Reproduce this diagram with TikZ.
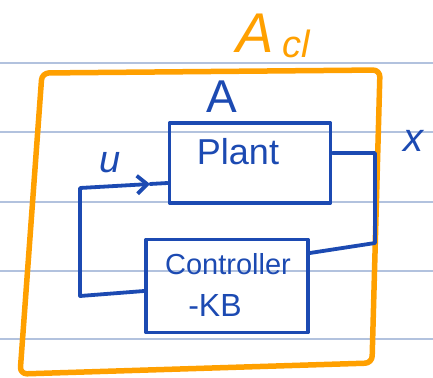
\documentclass[tikz,border=0pt]{standalone}
\usepackage{fontspec}
\setmainfont{Liberation Sans}
\usetikzlibrary{arrows.meta,calc}
\definecolor{penblue}{RGB}{28,74,178}
\definecolor{penorange}{RGB}{255,160,0}
\definecolor{ruleline}{RGB}{178,194,222}
\tikzset{
  blueline/.style={draw=penblue,line width=3.8pt,line cap=round,line join=round},
  orangeline/.style={draw=penorange,line width=5.5pt,line cap=round,line join=round,rounded corners=7pt},
  bluebox/.style={blueline,rectangle,inner sep=0pt},
  bluetext/.style={text=penblue,inner sep=0pt},
  orangetext/.style={text=penorange,inner sep=0pt},
}
\begin{document}
\begin{tikzpicture}[x=1pt,y=-1pt]
\useasboundingbox (0,0) rectangle (433,377);
\fill[white] (0,0) rectangle (433,377);
\foreach \yy in {63,132,202,271,339}
  \draw[ruleline,line width=1.2pt] (0,\yy) -- (433,\yy);

% closed-loop frame
\draw[orangeline] (42,73) -- (380,70) -- (372,363) -- (20,374) -- cycle;
\node[orangetext,font=\fontsize{56}{56}\selectfont\itshape] (aclA) at (255,33) {A};
\node[orangetext,font=\fontsize{38}{38}\selectfont\itshape,anchor=base west] (aclsub) at (282,58) {cl};

\node[bluetext,font=\fontsize{46}{46}\selectfont] (labA) at (222,97) {A};

% blocks
\node[bluebox,minimum width=161pt,minimum height=80pt] (plant) at (250,163) {};
\node[bluetext,font=\fontsize{36}{36}\selectfont] (plantlab) at (238,152) {Plant};

\node[bluebox,minimum width=162pt,minimum height=93pt] (ctrl) at (227,286) {};
\node[bluetext,font=\fontsize{29}{29}\selectfont] (ctrllab) at (228,264) {Controller};
\node[bluetext,font=\fontsize{32}{32}\selectfont] (kblab) at (215,305) {-KB};

% signals
\coordinate (xout) at ($(plant.east)+(0,-10)$);
\coordinate (xc1) at (375,153);
\coordinate (xc2) at (375,243);
\coordinate (cin) at ($(ctrl.east)+(0,-33)$);
\draw[blueline] (xout) -- (xc1) -- (xc2) -- (cin);

\coordinate (cout) at ($(ctrl.west)+(0,5)$);
\coordinate (fb1) at (80,296);
\coordinate (fb2) at (80,188);
\coordinate (uarr) at (150,184);
\coordinate (uin) at ($(plant.west)+(0,20)$);
\draw[blueline,-{Straight Barb[length=10pt,width=18pt,line width=3.8pt]}] (cout) -- (fb1) -- (fb2) -- (uarr);
\draw[blueline] (uarr) -- (uin);

\node[bluetext,font=\fontsize{38}{38}\selectfont\itshape] (ulab) at (110,163) {u};
\node[bluetext,font=\fontsize{40}{40}\selectfont\itshape] (xlab) at (413,141) {x};
\end{tikzpicture}
\end{document}
